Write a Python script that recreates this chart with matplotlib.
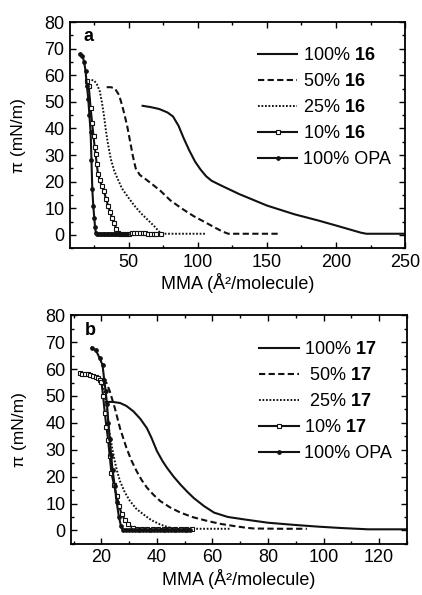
import matplotlib
matplotlib.use('Agg')
import matplotlib.pyplot as plt
from matplotlib.ticker import MultipleLocator

plt.rcParams['font.family'] = ['Liberation Sans', 'DejaVu Sans']
plt.rcParams['mathtext.fontset'] = 'custom'
plt.rcParams['mathtext.rm'] = 'Liberation Sans'
plt.rcParams['mathtext.bf'] = 'Liberation Sans:bold'

# ---- panel a: 16 / OPA mixtures ----
a_100_x = [60, 66, 72, 78, 82, 86, 90, 94, 98, 102, 106, 110, 117, 130, 150, 170, 187, 200, 210, 218, 222, 235, 250]
a_100_y = [48.5, 48, 47.3, 46, 44.5, 41, 36, 31.5, 27.5, 24.5, 22, 20.3, 18.5, 15.3, 11, 7.7, 5.4, 3.5, 2, 0.8, 0.4, 0.4, 0.4]

a_50_x = [34, 37, 40, 43, 45, 47, 49, 51, 53, 55, 58, 62, 67, 73, 80, 88, 97, 105, 112, 118, 122, 135, 159]
a_50_y = [55.5, 55.5, 55, 52.5, 49, 45, 40.5, 35, 29.5, 25, 22.5, 21, 19, 16.5, 13, 10, 7, 4.8, 2.8, 1.2, 0.4, 0.4, 0.4]

a_25_x = [20.5, 23, 25, 27, 29, 30.5, 32, 33.5, 35, 37, 39.5, 42, 45, 49, 54, 59, 64, 68.5, 72, 74, 85, 95, 106]
a_25_y = [58, 58.2, 58, 56.5, 54, 50, 45, 39, 34, 28.5, 24, 21, 17.5, 14.5, 11, 8, 5.5, 3.2, 1.2, 0.4, 0.4, 0.4, 0.4]

a_10_x = [19.5, 21, 22.4, 23.5, 24.5, 25.3, 26, 26.8, 27.7, 29, 30.5, 32, 33.5, 35, 36.5, 38, 39.5, 41, 42.5, 44,
          46, 48, 50, 52, 54, 56, 58, 60, 62, 64, 66, 68, 70, 73]
a_10_y = [58, 56, 47.5, 42, 37, 33, 30.4, 26.5, 23, 20.5, 18.3, 16.5, 13.5, 11, 8.5, 6.2, 4.3, 2.2, 0.7, 0.4,
          0.4, 0.4, 0.4, 0.5, 0.5, 0.5, 0.5, 0.5, 0.5, 0.4, 0.4, 0.3, 0.3, 0.3]

a_opa_x = [15, 16.5, 17.7, 18.7, 19.7, 20.7, 21.5, 22.4, 23, 23.6, 24.3, 25, 25.6, 26.2, 27,
           28, 29, 30, 31, 32, 33, 34, 35, 36, 37, 38, 39, 40, 41, 42, 43, 44, 45, 46, 47, 48, 49]
a_opa_y = [68, 67.2, 65, 61.6, 56, 51, 45, 38.5, 28, 17.2, 11, 6.5, 3, 0.6, 0.3,
           0.3, 0.3, 0.3, 0.3, 0.3, 0.3, 0.3, 0.3, 0.3, 0.3, 0.3, 0.3, 0.3, 0.3, 0.3, 0.3, 0.3, 0.3, 0.3, 0.3, 0.3, 0.3]

# ---- panel b: 17 / OPA mixtures ----
b_100_x = [21.6, 24, 26.7, 29, 31.5, 34, 36.4, 38, 40, 42, 43.6, 46, 48.5, 51, 53.3, 57, 60.6, 65.5, 72, 80, 90, 98, 106, 116, 122, 130]
b_100_y = [47.8, 47.8, 47.4, 46.3, 44.3, 41.5, 38, 34.5, 29.5, 25.8, 23.3, 20, 17, 14.3, 12, 9, 6.6, 5, 4, 2.85, 2, 1.4, 0.9, 0.4, 0.4, 0.4]

b_50_x = [20, 21.8, 23, 24.8, 26.7, 29, 30.8, 32.7, 34.5, 36.4, 38.8, 41.2, 44.8, 48.5, 53, 58.2, 63, 67.9, 72, 75, 85, 94]
b_50_y = [55.2, 54.9, 51.8, 45.6, 38, 30.7, 26, 22, 18.7, 15.9, 13.2, 10.9, 8.5, 6.6, 4.9, 3.5, 2.4, 1.6, 1, 0.7, 0.6, 0.6]

b_25_x = [20, 21, 21.8, 22.4, 23, 23.9, 24.8, 25.7, 26.7, 28.4, 30.3, 32.6, 35.2, 38, 41.2, 44, 46, 55, 66.7]
b_25_y = [55.5, 52, 46.8, 41, 35.7, 30.5, 25.8, 21.8, 18.3, 14.2, 10.9, 8, 5.9, 3.8, 2.2, 1.2, 0.7, 0.6, 0.6]

b_10_x = [12.1, 13, 14, 15, 16, 17, 18, 18.8, 19.5, 20, 20.6, 21.2, 21.8, 22.4, 23, 23.6, 24.5, 25.5, 26.4, 27.3, 28.5, 29.7, 31.2, 32.7,
          34.5, 36.5, 38.5, 40.5, 42.5, 44.5, 46.5, 48.5, 50.5, 52.7]
b_10_y = [58.5, 58.3, 58.2, 58, 57.8, 57.6, 57.2, 56.8, 56, 55.3, 50, 43.8, 38.5, 33.8, 27.5, 21.5, 17, 12.8, 9, 6, 3.8, 2.2, 1, 0.4,
          0.4, 0.4, 0.4, 0.4, 0.4, 0.4, 0.4, 0.4, 0.4, 0.4]

b_opa_x = [16.5, 18, 19.4, 20.4, 21, 21.5, 22, 22.5, 23, 23.5, 24, 24.8, 25.5, 26.3, 27, 27.6,
           29, 30, 31, 32, 33, 34, 35, 36, 37, 38, 39, 40, 41, 42, 43, 44, 45, 46, 47, 48, 49, 50, 51, 52]
b_opa_y = [68, 67, 64, 61.5, 56, 52, 47, 40, 34, 28, 22.5, 16.5, 10.5, 5, 1.8, 0.3,
           0.3, 0.3, 0.3, 0.3, 0.3, 0.3, 0.3, 0.3, 0.3, 0.3, 0.3, 0.3, 0.3, 0.3, 0.3, 0.3, 0.3, 0.3, 0.3, 0.3, 0.3, 0.3, 0.3, 0.3]

ink = '#111111'
FS = 13


def draw_panel(ax, series, labels, letter, xlim, xmajor, xminor):
    (x100, y100), (x50, y50), (x25, y25), (x10, y10), (xo, yo) = series
    ax.plot(x100, y100, color=ink, lw=1.5, label=labels[0])
    ax.plot(x50, y50, color=ink, lw=1.5, linestyle=(0, (3, 1.6)), label=labels[1])
    ax.plot(x25, y25, color=ink, lw=1.4, linestyle=(0, (0.9, 0.9)), label=labels[2])
    ax.plot(x10, y10, color=ink, lw=1.5, marker='s', ms=2.8, mfc='white', mec=ink, mew=0.8, label=labels[3])
    ax.plot(xo, yo, color=ink, lw=1.5, marker='o', ms=2.4, mfc=ink, mec=ink, label=labels[4])

    ax.set_xlim(*xlim)
    ax.set_ylim(-5, 80)
    ax.xaxis.set_major_locator(MultipleLocator(xmajor))
    ax.xaxis.set_minor_locator(MultipleLocator(xminor))
    ax.yaxis.set_major_locator(MultipleLocator(10))
    ax.yaxis.set_minor_locator(MultipleLocator(5))
    ax.tick_params(which='both', direction='in', top=True, right=True,
                   labelsize=FS, width=1.0, pad=4)
    ax.tick_params(which='major', length=4)
    ax.tick_params(which='minor', length=2)
    for sp in ax.spines.values():
        sp.set_linewidth(1.3)

    ax.set_xlabel('MMA (Å²/molecule)', fontsize=FS, labelpad=2)
    ax.set_ylabel('π (mN/m)', fontsize=FS - 0.5, labelpad=13)
    ax.text(0.04, 0.935, letter, transform=ax.transAxes, fontsize=FS,
            fontweight='bold', ha='left', va='center')

    leg = ax.legend(loc='upper left', bbox_to_anchor=(0.56, 0.888), frameon=False,
                    fontsize=FS, handlelength=2.2, handletextpad=0.3,
                    labelspacing=0.5, borderpad=0, borderaxespad=0,
                    numpoints=1, markerscale=1.0)
    return leg


fig = plt.figure(figsize=(4.22, 5.95), dpi=100)
ax_a = fig.add_axes([0.166, 0.583, 0.794, 0.380])
ax_b = fig.add_axes([0.168, 0.086, 0.796, 0.384])

draw_panel(ax_a,
           [(a_100_x, a_100_y), (a_50_x, a_50_y), (a_25_x, a_25_y), (a_10_x, a_10_y), (a_opa_x, a_opa_y)],
           ['100% $\\mathbf{16}$', '50% $\\mathbf{16}$', '25% $\\mathbf{16}$', '10% $\\mathbf{16}$', '100% OPA'],
           'a', (7.5, 250), 50, 25)

draw_panel(ax_b,
           [(b_100_x, b_100_y), (b_50_x, b_50_y), (b_25_x, b_25_y), (b_10_x, b_10_y), (b_opa_x, b_opa_y)],
           ['100% $\\mathbf{17}$', ' 50% $\\mathbf{17}$', ' 25% $\\mathbf{17}$', '10% $\\mathbf{17}$', '100% OPA'],
           'b', (9, 130), 20, 10)

fig.savefig('out.png', dpi=100, facecolor='white')
